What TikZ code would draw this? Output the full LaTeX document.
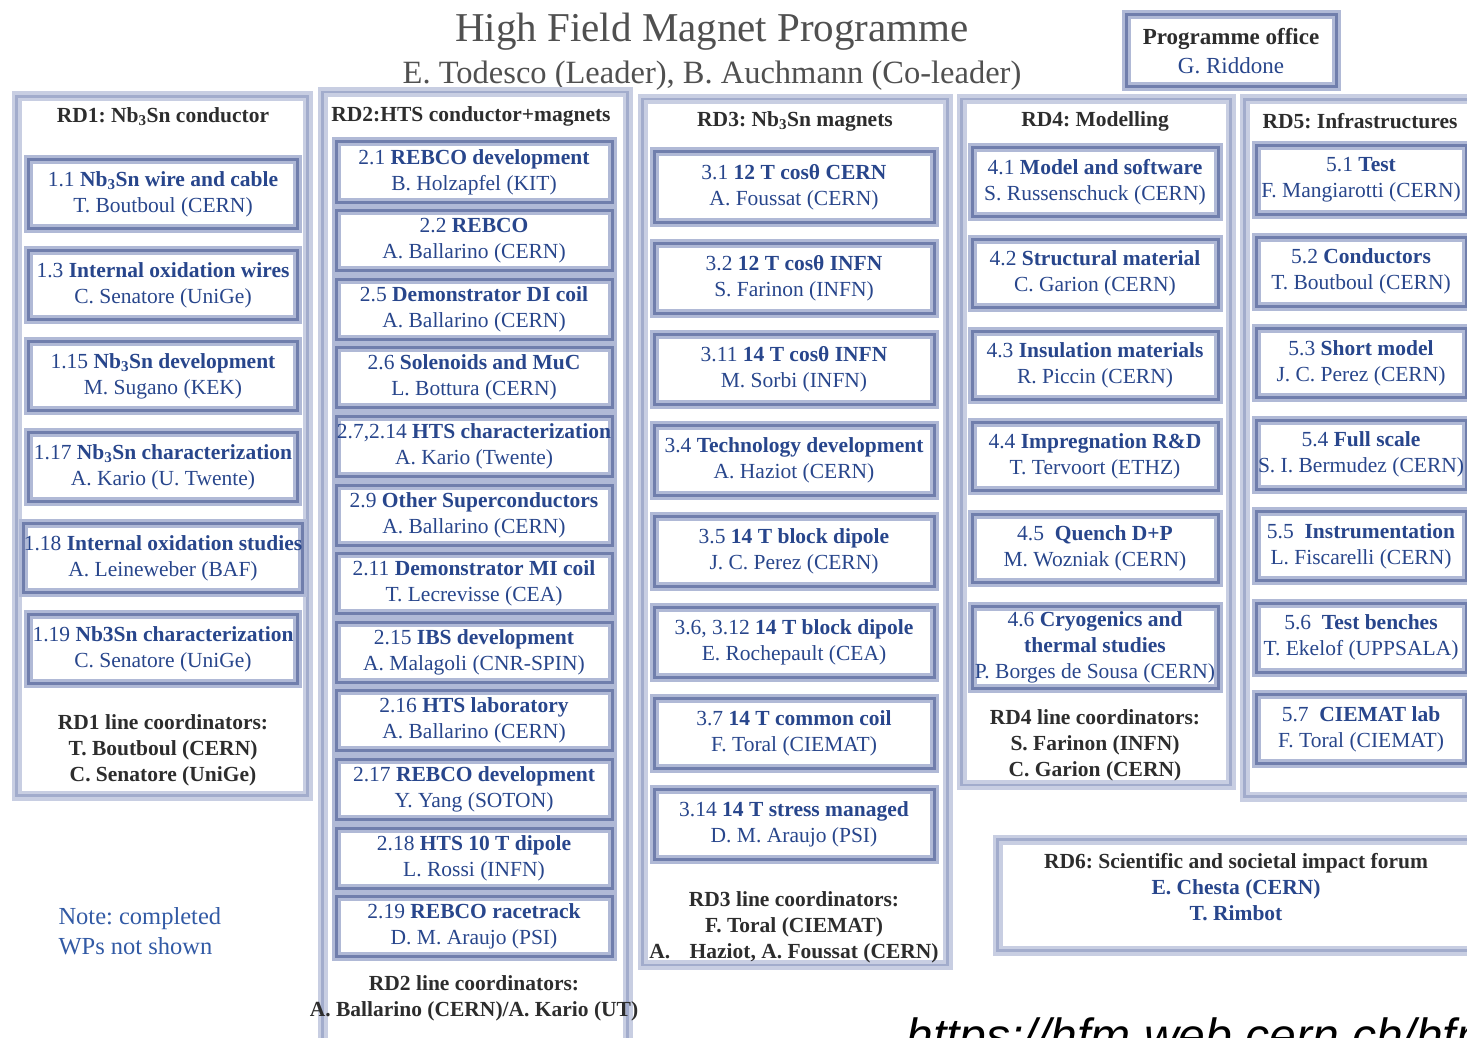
\documentclass[tikz,border=0pt]{standalone}
\usepackage{fontspec}
\setmainfont{Liberation Serif}
\setsansfont{Liberation Sans}
\usepackage{tikz}
\usetikzlibrary{positioning}
\usepackage{xcolor}
\definecolor{wpblue}{RGB}{40,70,140}
\definecolor{noteblue}{RGB}{50,90,165}
\definecolor{headgrey}{RGB}{45,45,45}
\definecolor{titlegrey}{RGB}{80,80,80}
\definecolor{boxlight}{RGB}{176,185,214}
\definecolor{boxdark}{RGB}{112,126,172}
\definecolor{panellight}{RGB}{200,206,226}
\definecolor{paneldark}{RGB}{162,172,204}
\frenchspacing

\begin{document}
\begin{tikzpicture}[x=1pt, y=-1pt, node distance=91pt]
    % Define styles
    \tikzstyle{panel} = [rectangle, fill=white, draw=panellight, line width=10pt, postaction={draw=paneldark, line width=2.5pt}]
    \tikzstyle{wp} = [rectangle, fill=white, draw=boxlight, line width=9pt, postaction={draw=boxdark, line width=3pt}, text=wpblue, align=center, inner sep=0pt, font=\fontsize{21.5}{26}\selectfont]
    \tikzstyle{wp1} = [wp, minimum width=269pt, minimum height=69pt]
    \tikzstyle{wp2} = [wp, minimum width=276pt, minimum height=60pt]
    \tikzstyle{wp3} = [wp, minimum width=280pt, minimum height=70pt]
    \tikzstyle{wp4} = [wp, minimum width=246pt, minimum height=68pt]
    \tikzstyle{wp5} = [wp, minimum width=210pt, minimum height=69pt]
    \tikzstyle{head} = [text=headgrey, align=center, font=\fontsize{21.5}{26}\selectfont\bfseries]

    \useasboundingbox (0,0) rectangle (1467,1038);

    % Title
    \node [text=titlegrey, font=\fontsize{41}{48}\selectfont] (title) at (712,32) {High Field Magnet Programme};
    \node [text=titlegrey, font=\fontsize{32.5}{38}\selectfont] (leaders) at (712,76) {E. Todesco (Leader), B. Auchmann (Co-leader)};
    \node [wp, minimum width=210pt, minimum height=72pt, font=\fontsize{23}{29}\selectfont] (office) at (1231,51) {\textcolor{headgrey}{\textbf{Programme office}}\\G. Riddone};

    % Panels
    \node [panel, minimum width=291pt, minimum height=699pt] (rd1) at (162,446) {};
    \node [panel, minimum width=305pt, minimum height=960pt] (rd2) at (475,572) {};
    \node [panel, minimum width=305pt, minimum height=866pt] (rd3) at (795,532) {};
    \node [panel, minimum width=269pt, minimum height=686pt] (rd4) at (1096,442) {};
    \node [panel, minimum width=241pt, minimum height=697pt] (rd5) at (1365,448) {};
    \node [panel, minimum width=485pt, minimum height=111pt] (rd6) at (1240,895) {};

    % RD1
    \node [head] (rd1h) at (163,117) {RD1: Nb\textsubscript{3}Sn conductor};
    \node [wp1] (w11) at (163,194) {1.1 \textbf{Nb\textsubscript{3}Sn wire and cable}\\T. Boutboul (CERN)};
    \node [wp1, below of=w11] (w13) {1.3 \textbf{Internal oxidation wires}\\C. Senatore (UniGe)};
    \node [wp1, below of=w13] (w115) {1.15 \textbf{Nb\textsubscript{3}Sn development}\\M. Sugano (KEK)};
    \node [wp1, below of=w115] (w117) {1.17 \textbf{Nb\textsubscript{3}Sn characterization}\\A. Kario (U. Twente)};
    \node [wp1, below of=w117] (w118) {1.18 \textbf{Internal oxidation studies}\\A. Leineweber (BAF)};
    \node [wp1, below of=w118] (w119) {1.19 \textbf{Nb3Sn characterization}\\C. Senatore (UniGe)};
    \node [head] (rd1c) at (163,750) {RD1 line coordinators:\\T. Boutboul (CERN)\\C. Senatore (UniGe)};
    \node [text=noteblue, align=left, anchor=west, font=\fontsize{24.5}{30}\selectfont] (note) at (55,931) {Note: completed\\WPs not shown};

    % RD2
    \begin{scope}[node distance=68.6pt]
    \node [head] (rd2h) at (471,116) {RD2:HTS conductor+magnets};
    \node [wp2] (w21) at (474,172) {2.1 \textbf{REBCO development}\\B. Holzapfel (KIT)};
    \node [wp2, below of=w21] (w22) {2.2 \textbf{REBCO}\\A. Ballarino (CERN)};
    \node [wp2, below of=w22] (w25) {2.5 \textbf{Demonstrator DI coil}\\A. Ballarino (CERN)};
    \node [wp2, below of=w25] (w26) {2.6 \textbf{Solenoids and MuC}\\L. Bottura (CERN)};
    \node [wp2, below of=w26] (w27) {2.7,2.14 \textbf{HTS characterization}\\A. Kario (Twente)};
    \node [wp2, below of=w27] (w29) {2.9 \textbf{Other Superconductors}\\A. Ballarino (CERN)};
    \node [wp2, below of=w29] (w211) {2.11 \textbf{Demonstrator MI coil}\\T. Lecrevisse (CEA)};
    \node [wp2, below of=w211] (w215) {2.15 \textbf{IBS development}\\A. Malagoli (CNR-SPIN)};
    \node [wp2, below of=w215] (w216) {2.16 \textbf{HTS laboratory}\\A. Ballarino (CERN)};
    \node [wp2, below of=w216] (w217) {2.17 \textbf{REBCO development}\\Y. Yang (SOTON)};
    \node [wp2, below of=w217] (w218) {2.18 \textbf{HTS 10 T dipole}\\L. Rossi (INFN)};
    \node [wp2, below of=w218] (w219) {2.19 \textbf{REBCO racetrack}\\D. M. Araujo (PSI)};
    \end{scope}
    \node [head] (rd2c) at (474,998) {RD2 line coordinators:\\A. Ballarino (CERN)/A. Kario (UT)};

    % RD3
    \node [head] (rd3h) at (795,121) {RD3: Nb\textsubscript{3}Sn magnets};
    \node [wp3] (w31) at (794,187) {3.1 \textbf{12 T cosθ CERN}\\A. Foussat (CERN)};
    \node [wp3, below of=w31] (w32) {3.2 \textbf{12 T cosθ INFN}\\S. Farinon (INFN)};
    \node [wp3, below of=w32] (w311) {3.11 \textbf{14 T cosθ INFN}\\M. Sorbi (INFN)};
    \node [wp3, below of=w311] (w34) {3.4 \textbf{Technology development}\\A. Haziot (CERN)};
    \node [wp3, below of=w34] (w35) {3.5 \textbf{14 T block dipole}\\J. C. Perez (CERN)};
    \node [wp3, below of=w35] (w36) {3.6, 3.12 \textbf{14 T block dipole}\\E. Rochepault (CEA)};
    \node [wp3, below of=w36] (w37) {3.7 \textbf{14 T common coil}\\F. Toral (CIEMAT)};
    \node [wp3, below of=w37] (w314) {3.14 \textbf{14 T stress managed}\\D. M. Araujo (PSI)};
    \node [head] (rd3c) at (794,927) {RD3 line coordinators:\\F. Toral (CIEMAT)\\A.\hspace{0.9em}Haziot, A. Foussat (CERN)};

    % RD4
    \begin{scope}[node distance=91.5pt]
    \node [head] (rd4h) at (1095,121) {RD4: Modelling};
    \node [wp4] (w41) at (1095,182) {4.1 \textbf{Model and software}\\S. Russenschuck (CERN)};
    \node [wp4, below of=w41] (w42) {4.2 \textbf{Structural material}\\C. Garion (CERN)};
    \node [wp4, below of=w42] (w43) {4.3 \textbf{Insulation materials}\\R. Piccin (CERN)};
    \node [wp4, below of=w43] (w44) {4.4 \textbf{Impregnation R\&D}\\T. Tervoort (ETHZ)};
    \node [wp4, below of=w44] (w45) {4.5\ \ \textbf{Quench D+P}\\M. Wozniak (CERN)};
    \node [wp4, below of=w45, yshift=-8pt, minimum height=82pt] (w46) {4.6 \textbf{Cryogenics and}\\\textbf{thermal studies}\\P. Borges de Sousa (CERN)};
    \end{scope}
    \node [head] (rd4c) at (1095,745) {RD4 line coordinators:\\S. Farinon (INFN)\\C. Garion (CERN)};

    % RD5
    \begin{scope}[node distance=91.5pt]
    \node [head] (rd5h) at (1360,121) {RD5: Infrastructures};
    \node [wp5] (w51) at (1361,180) {5.1 \textbf{Test}\\F. Mangiarotti (CERN)};
    \node [wp5, below of=w51] (w52) {5.2 \textbf{Conductors}\\T. Boutboul (CERN)};
    \node [wp5, below of=w52] (w53) {5.3 \textbf{Short model}\\J. C. Perez (CERN)};
    \node [wp5, below of=w53] (w54) {5.4 \textbf{Full scale}\\S. I. Bermudez (CERN)};
    \node [wp5, below of=w54] (w55) {5.5\ \ \textbf{Instrumentation}\\L. Fiscarelli (CERN)};
    \node [wp5, below of=w55] (w56) {5.6\ \ \textbf{Test benches}\\T. Ekelof (UPPSALA)};
    \node [wp5, below of=w56] (w57) {5.7\ \ \textbf{CIEMAT lab}\\F. Toral (CIEMAT)};
    \end{scope}

    % RD6
    \node [head, text=wpblue] (rd6t) at (1236,887) {\textcolor{headgrey}{RD6: Scientific and societal impact forum}\\E. Chesta (CERN)\\T. Rimbot};

    % Link
    \node [anchor=base west, font=\sffamily\itshape\fontsize{48}{56}\selectfont] (url) at (903,1052) {https://hfm.web.cern.ch/hfm};
\end{tikzpicture}
\end{document}
